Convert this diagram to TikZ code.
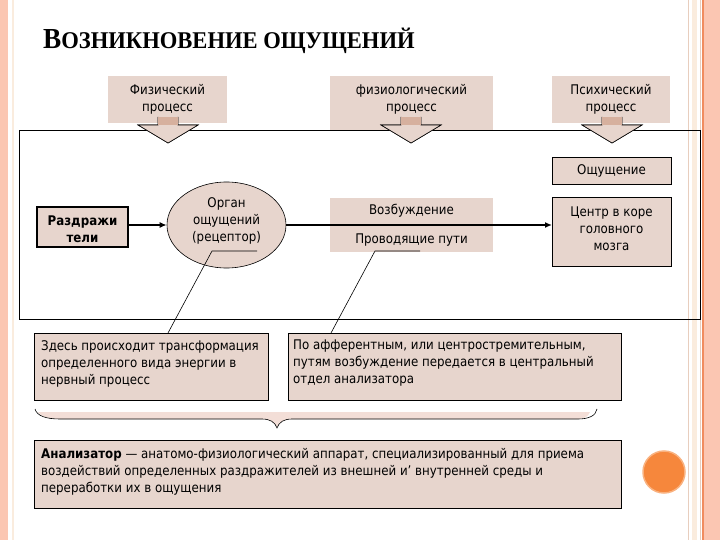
\documentclass[tikz,border=0pt]{standalone}
\usepackage{fontspec}
\setmainfont{DejaVu Sans}[FakeStretch=0.89]
\newfontfamily\titlefont{Liberation Serif}[FakeStretch=0.94]
\usetikzlibrary{shapes.geometric,arrows.meta}
\definecolor{tan}{RGB}{231,213,205}
\definecolor{tandark}{RGB}{214,176,158}
\definecolor{stripe}{RGB}{251,198,178}
\definecolor{stripeline}{RGB}{240,140,95}
\definecolor{cream}{RGB}{250,236,222}
\definecolor{beige}{RGB}{232,206,190}
\definecolor{bracefill}{RGB}{243,222,215}
\definecolor{orangedot}{RGB}{246,135,60}
\definecolor{orangering}{RGB}{249,178,128}
\begin{document}
\begin{tikzpicture}[x=1pt,y=-1pt,
  box/.style={fill=tan, inner sep=0pt, outer sep=0pt},
  bbox/.style={box, draw=black, line width=0.8pt},
  txt/.style={font=\fontsize{13.3}{17}\selectfont, inner sep=0pt, align=center},
  ltxt/.style={font=\fontsize{13.3}{17}\selectfont, inner sep=0pt, align=left, anchor=north west},
  mainarrow/.style={line width=1.6pt, -{Latex[length=7pt,width=6pt]}},
  thin/.style={line width=0.6pt},
  blockarrow/.style={fill=tan, draw=black, line width=0.6pt}
]
\useasboundingbox (0,0) rectangle (720,540);
% side stripes
\fill[stripe] (0,0) rectangle (8,540);
\draw[cream, line width=1.5pt] (13,0) -- (13,540);
\draw[beige, line width=1pt] (688,0) -- (688,540);
\fill[cream] (692,0) rectangle (697,540);
\draw[beige, line width=1pt] (700,0) -- (700,540);
\fill[stripe] (703,0) rectangle (720,540);
\draw[stripeline, line width=1.2pt] (703,0) -- (703,540);

% title
\node[anchor=base west, inner sep=0pt] (title) at (43,49) {\titlefont\bfseries
  {\fontsize{29}{29}\selectfont В}{\fontsize{24}{24}\selectfont ОЗНИКНОВЕНИЕ ОЩУЩЕНИЙ}};

% top boxes
\node[box, minimum width=119pt, minimum height=47pt] (phys) at (167.5,99.5) {};
\node[txt] (physT) at (167.5,99.5) {Физический\\процесс};
\node[box, minimum width=163pt, minimum height=54pt] (physio) at (411.5,103) {};
\node[txt] (physioT) at (411.5,99.5) {физиологический\\процесс};
\node[box, minimum width=118pt, minimum height=47pt] (psych) at (611,99.5) {};
\node[txt] (psychT) at (611,99.5) {Психический\\процесс};

% frame
\node[draw=black, line width=0.8pt, minimum width=681pt, minimum height=189pt, inner sep=0pt] (frame) at (359.5,224.5) {};

% block arrows
\foreach \cx/\nm in {168/a1, 411/a2, 612/a3}{
  \path[blockarrow] (\cx-10,125) -- (\cx-30,125) -- (\cx,143) -- (\cx+30,125) -- (\cx+10,125);
  \draw[blockarrow] (\cx-10,117) -- (\cx-10,125) -- (\cx-30,125) -- (\cx,143) -- (\cx+30,125) -- (\cx+10,125) -- (\cx+10,117);
  \fill[tandark] (\cx-9.6,117) rectangle (\cx+9.6,124.6);
}

% middle row
\node[box, draw=black, line width=1.8pt, minimum width=91pt, minimum height=40pt] (razd) at (82.5,227) {};
\node[txt, font=\fontsize{13.3}{16.5}\selectfont\bfseries] (razdT) at (82.5,229) {Раздражи\\тели};
\node[ellipse, fill=tan, draw=black, line width=0.6pt, minimum width=119pt, minimum height=86pt, inner sep=0pt] (organ) at (226.5,225) {};
\node[txt] (organT) at (226.5,221) {Орган\\ощущений\\(рецептор)};
\node[box, minimum width=163pt, minimum height=54pt] (vozb) at (411.5,225) {};
\node[txt] (vozbT) at (411.5,211) {Возбуждение};
\node[txt] (provT) at (411.5,240) {Проводящие пути};
\node[bbox, line width=0.7pt, minimum width=119pt, minimum height=27pt] (oshch) at (611.5,170.5) {};
\node[txt] (oshchT) at (611.5,171) {Ощущение};
\node[bbox, line width=0.7pt, minimum width=119pt, minimum height=69pt] (centr) at (611.5,231.5) {};
\node[txt] (centrT) at (611.5,229) {Центр в коре\\головного\\мозга};

\draw[mainarrow] (razd.east |- organ.west) -- (organ.west);
\draw[mainarrow] (organ.east) -- (organ.east -| centr.west);

% callout boxes
\node[bbox, line width=0.7pt, minimum width=234pt, minimum height=67pt] (calA) at (151,366.5) {};
\node[ltxt] (calAT) at (41,340) {Здесь происходит трансформация\\определенного вида энергии в\\нервный процесс};
\node[bbox, line width=0.7pt, minimum width=333pt, minimum height=67pt] (calB) at (454.5,366.5) {};
\node[ltxt] (calBT) at (293,340) {По афферентным, или центростремительным,\\путям возбуждение передается в центральный\\отдел анализатора};

\coordinate (u1a) at (212,251);
\coordinate (u1b) at (257,251);
\coordinate (u1c) at (168,333);
\coordinate (u2a) at (375,251);
\coordinate (u2b) at (420,251);
\coordinate (u2c) at (331,333);
\draw[thin] (u1b) -- (u1a) -- (u1c);
\draw[thin] (u2b) -- (u2a) -- (u2c);

% brace
\fill[bracefill] (38,412) -- (590,412) .. controls (588,417) and (584,419) .. (578,419) -- (292,419) .. controls (284,419) and (279,422) .. (277,427) .. controls (275,422) and (270,419) .. (262,419) -- (60,419) .. controls (48,419) and (40,416) .. cycle;
\draw[thin] (35,409) .. controls (37,416) and (46,419) .. (60,419) -- (262,419) .. controls (270,419) and (275,422) .. (277,428) .. controls (279,422) and (284,419) .. (292,419) -- (578,419) .. controls (588,419) and (596,416) .. (597,409);

% analyser box
\node[bbox, line width=0.7pt, minimum width=587pt, minimum height=68pt] (anal) at (327.5,474) {};
\node[ltxt] (analT) at (41,448) {\textbf{Анализатор} — анатомо-физиологический аппарат, специализированный для приема\\воздействий определенных раздражителей из внешней и' внутренней среды и\\переработки их в ощущения};

% orange dot
\node[circle, fill=orangedot, draw=orangering, line width=1.5pt, minimum size=42pt, inner sep=0pt] (dot) at (664,472) {};
\end{tikzpicture}
\end{document}
